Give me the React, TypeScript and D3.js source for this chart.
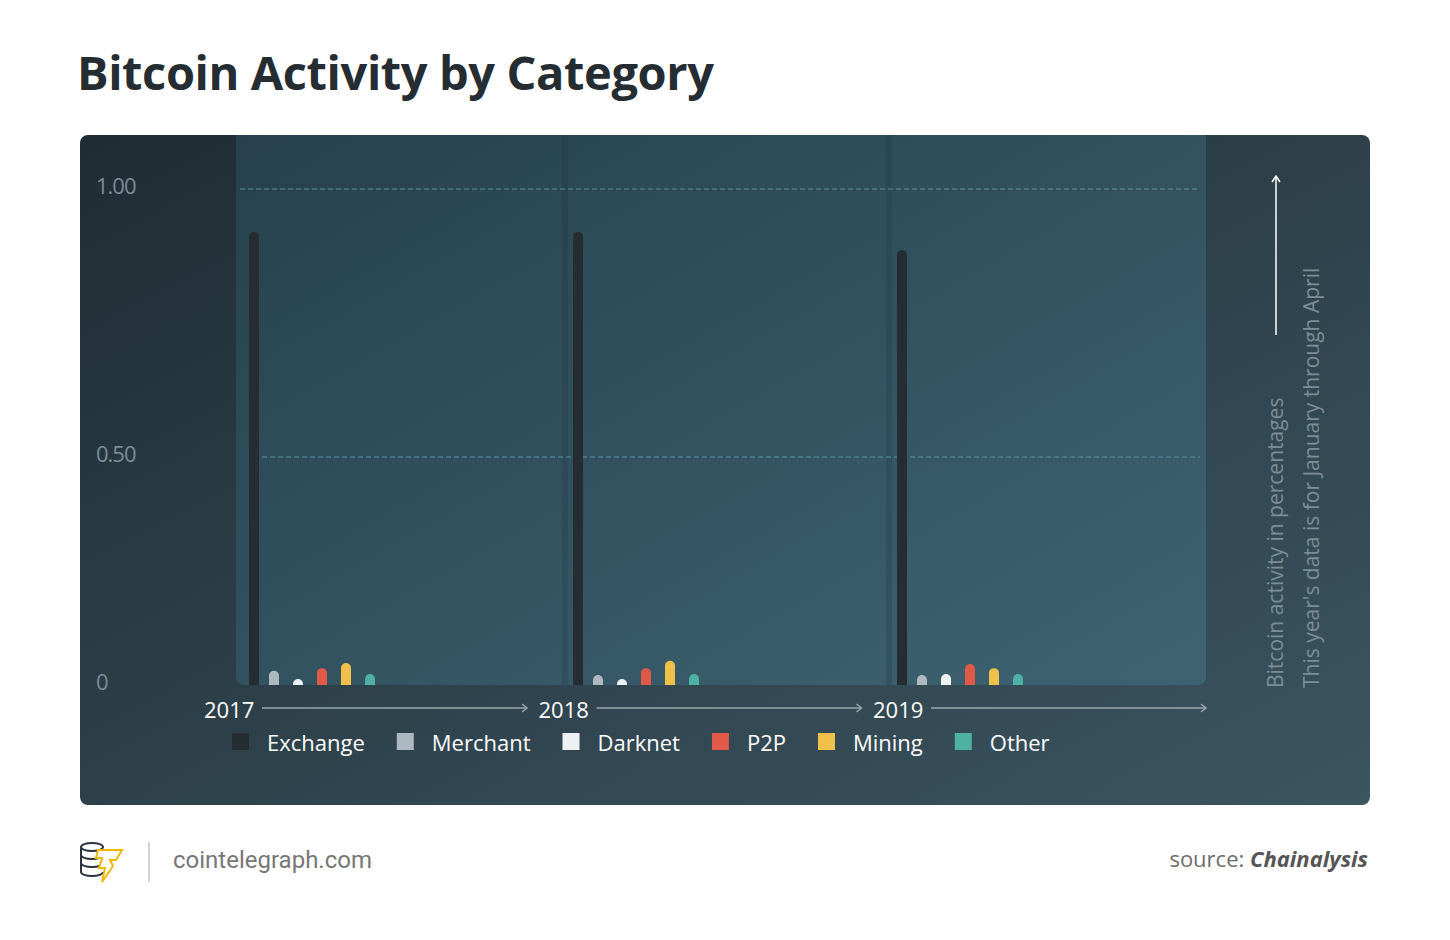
import React from 'react';
import * as d3 from 'd3';

const years = ['2017', '2018', '2019'];
const categories = ['Exchange', 'Merchant', 'Darknet', 'P2P', 'Mining', 'Other'];
const colors = ['#252d33', '#aeb8bf', '#eef1f3', '#e05a47', '#f1c04b', '#4fb0a4'];
const values: number[][] = [
  [0.92, 0.031, 0.013, 0.037, 0.048, 0.024],
  [0.92, 0.022, 0.013, 0.037, 0.053, 0.024],
  [0.886, 0.022, 0.024, 0.046, 0.037, 0.024],
];
const yTicks = [0, 0.5, 1.0];
const yTickLabels = ['0', '0.50', '1.00'];

const W = 1450;
const H = 940;
const font = '"Open Sans", "Noto Sans", sans-serif';

function measure(s: string, size: number) {
  const ctx = document.createElement('canvas').getContext('2d');
  if (!ctx) return s.length * 11;
  ctx.font = `${size}px "Open Sans"`;
  return ctx.measureText(s).width;
}

export default function App() {
  const y = d3.scaleLinear().domain([0, 0.5, 1]).range([685, 457, 189]);
  const x = d3.scaleBand().domain(years).range([236, 1208]);
  // exchange sits a little apart from the small bars
  const inner = d3.scaleLinear().domain([0, 1, 5]).range([18, 38, 134]);
  const barW = 10;

  let lx = 232;
  const legendX = categories.map((c) => {
    const p = lx;
    lx += 35 + measure(c, 22) + 32;
    return p;
  });

  return (
    <svg width={W} height={H} style={{ position: 'absolute', left: 0, top: 0 }} fontFamily={font}>
      <defs>
        <linearGradient id="card" x1="0" y1="0" x2="1" y2="1">
          <stop offset="0%" stopColor="#1f2c33" />
          <stop offset="100%" stopColor="#3b5561" />
        </linearGradient>
        <linearGradient id="panel" x1="0" y1="0" x2="1" y2="1">
          <stop offset="0%" stopColor="#26414d" />
          <stop offset="100%" stopColor="#3f6373" />
        </linearGradient>
      </defs>
      <rect width={W} height={H} fill="#fff" />
      <text x={77} y={90} fontSize={47} fontWeight={700} fill="#252d33" letterSpacing={-0.4}>Bitcoin Activity by Category</text>
      <rect x={80} y={135} width={1290} height={670} rx={8} fill="url(#card)" />
      <path d={`M236,135 H1206 V677 a8,8 0 0 1 -8,8 H244 a8,8 0 0 1 -8,-8 Z`} fill="url(#panel)" />
      {years.slice(1).map((yr) => (
        <rect key={yr} x={(x(yr) as number) + 2} y={135} width={6} height={550} fill="#1f3540" opacity={0.25} />
      ))}
      {yTicks.map((t, i) => (
        <g key={t}>
          {t > 0 && (
            <line x1={t === 1 ? 240 : 262} x2={1200} y1={y(t)} y2={y(t)}
              stroke="#5f8fa2" strokeDasharray="5,3" strokeWidth={1.2} />
          )}
          <text x={96} y={y(t) + 5} fontSize={22} fill="#7c8d96" letterSpacing={-1}>{yTickLabels[i]}</text>
        </g>
      ))}
      {years.map((yr, gi) => {
        const x0 = x(yr) as number;
        return (
          <g key={yr}>
            {values[gi].map((v, ci) => {
              const cx = x0 + inner(ci);
              const top = y(v);
              return (
                <path key={ci}
                  d={`M${cx - barW / 2},685 V${top + barW / 2} a${barW / 2},${barW / 2} 0 0 1 ${barW},0 V685 Z`}
                  fill={colors[ci]} />
              );
            })}
          </g>
        );
      })}
      {years.map((yr, i) => {
        const tx = (x(yr) as number) - 32 + i * 10.5;
        const end = i < 2 ? (x(years[i + 1]) as number) - 33 + i * 10.5 : 1206;
        return (
          <g key={yr}>
            <text x={tx} y={718} fontSize={22} fill="#fff">{yr}</text>
            <line x1={tx + 58} x2={end} y1={708} y2={708} stroke="#9aa7ae" strokeWidth={1.5} />
            <path d={`M${end - 5},704 L${end},708 L${end - 5},712`} fill="none" stroke="#9aa7ae" strokeWidth={1.5} />
          </g>
        );
      })}
      {categories.map((c, i) => (
        <g key={c}>
          <rect x={legendX[i]} y={733} width={17} height={17} fill={colors[i]} />
          <text x={legendX[i] + 35} y={751} fontSize={22} fill="#fff">{c}</text>
        </g>
      ))}
      <g transform="translate(1283,688) rotate(-90)" fontSize={21} fill="#7c8d96">
        <text x={0} y={0}>Bitcoin activity in percentages</text>
        <text x={0} y={36}>This year's data is for January through April</text>
      </g>
      <line x1={1276} x2={1276} y1={335} y2={178} stroke="#fff" strokeWidth={1.5} />
      <path d="M1272,182 L1276,176 L1280,182" fill="none" stroke="#fff" strokeWidth={1.5} />
      <g transform="translate(80,842)" fill="none" stroke="#2a3440" strokeWidth={2}>
        <ellipse cx={12} cy={5} rx={11} ry={4} />
        <path d="M1,5 V30 a11,4 0 0 0 22,0" />
        <path d="M1,13 a11,4 0 0 0 22,0 M1,21 a11,4 0 0 0 22,0" />
        <path d="M18,8 H42 L36,18 H30 L33,24 L22,40 L25,26 H19 L22,16 H16 Z" stroke="#f1b800" fill="#fff" />
      </g>
      <line x1={149} x2={149} y1={842} y2={882} stroke="#c7c7c7" strokeWidth={1.5} />
      <text x={173} y={868} fontSize={24} fill="#777" fontFamily='Roboto, sans-serif'>cointelegraph.com</text>
      <text x={1368} y={867} fontSize={22} fill="#6d6d6d" textAnchor="end">
        source: <tspan fontWeight={700} fontStyle="italic" fill="#555">Chainalysis</tspan>
      </text>
    </svg>
  );
}
